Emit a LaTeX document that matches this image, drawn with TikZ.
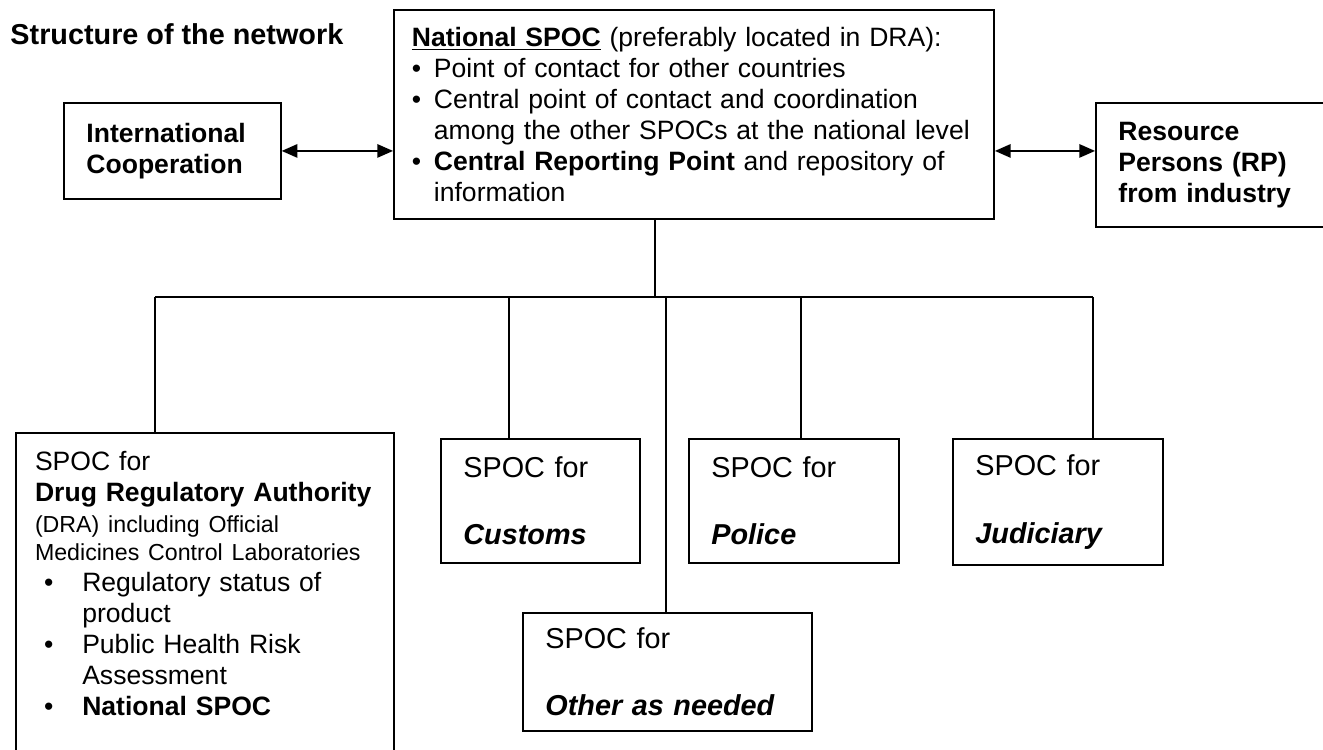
\documentclass[tikz,border=0pt]{standalone}
\usepackage{fontspec}
\setmainfont{Liberation Sans}
\usetikzlibrary{arrows.meta, positioning}
\hyphenpenalty=10000

\begin{document}
\begin{tikzpicture}[x=0.4444pt, y=-0.4444pt, >={Triangle[length=7pt, width=6pt]}]
				\tikzstyle{box} = [draw=black, line width=0.8pt, anchor=north west, align=left, inner xsep=10pt, inner ysep=4pt, font=\fontsize{11.8}{13.8}\selectfont]
				\tikzstyle{spoc} = [box, minimum height=55.1pt, font=\fontsize{12.8}{15}\selectfont]
				\tikzstyle{link} = [line width=0.7pt]
				
				\useasboundingbox (0,0) rectangle (1323,749);
				\clip (0,0) rectangle (1323,749);
				
				\node[anchor=base west, inner sep=0pt, font=\bfseries\fontsize{12.8}{15}\selectfont] at (10, 45) (title) {Structure of the network};
				
				\node[box, inner xsep=8pt, text width=250.7pt, minimum height=92.9pt] at (393, 9) (nat) {%
					\textbf{\underline{National SPOC}} (preferably located in DRA):\\
					\makebox[9.8pt][l]{\textbullet}Point of contact for other countries\\
					\makebox[9.8pt][l]{\textbullet}Central point of contact and coordination\\
					\hspace*{9.8pt}among the other SPOCs at the national level\\
					\makebox[9.8pt][l]{\textbullet}\textbf{Central Reporting Point} and repository of\\
					\hspace*{9.8pt}information};
				\node[box, text width=76.4pt, minimum height=42.7pt, font=\bfseries\fontsize{11.8}{13.8}\selectfont] at (63, 102) (ic) {International\\Cooperation};
				\node[box, text width=88.9pt, minimum height=55.1pt, font=\bfseries\fontsize{11.8}{13.8}\selectfont] at (1095, 102) (rp) {Resource\\Persons (RP)\\from industry};
				
				\node[box, inner xsep=8.5pt, inner ysep=8pt, text width=151pt] at (15, 432) (dra) {%
					SPOC for\\
					\textbf{Drug Regulatory Authority}\\
					{\fontsize{10.3}{12.1}\selectfont (DRA) including Official}\\[-1.3pt]
					{\fontsize{10.3}{12.1}\selectfont Medicines Control Laboratories}\\
					\makebox[21pt][l]{\hspace{4pt}\textbullet}Regulatory status of\\
					\hspace*{21pt}product\\
					\makebox[21pt][l]{\hspace{4pt}\textbullet}Public Health Risk\\
					\hspace*{21pt}Assessment\\
					\makebox[21pt][l]{\hspace{4pt}\textbullet}\textbf{National SPOC}\\[20pt]
					\mbox{}};
				\node[spoc, text width=68.4pt] at (440, 438) (cus) {SPOC for\\[15pt]\textbf{\itshape Customs}};
				\node[spoc, text width=73.3pt] at (688, 438) (pol) {SPOC for\\[15pt]\textbf{\itshape Police}};
				\node[spoc, text width=73.3pt, minimum height=56pt] at (952, 438) (jud) {SPOC for\\[15pt]\textbf{\itshape Judiciary}};
				\node[spoc, text width=108.4pt, minimum height=52.4pt] at (522, 612) (oth) {SPOC for\\[15pt]\textbf{\itshape Other as needed}};
				
				\coordinate (hub)  at (655, 297);
				\coordinate (bdra) at (155, 297);
				\coordinate (bcus) at (509, 297);
				\coordinate (both) at (666, 297);
				\coordinate (bpol) at (801, 297);
				\coordinate (bjud) at (1093, 297);
				
				\path[<->, link]
				(ic.east)		edge	(ic.east -| nat.west)
				(ic.east -| nat.east)	edge	(ic.east -| rp.west);
				
				\path[link]
				(hub |- nat.south)	edge	(hub)
				(bdra)	edge	(bjud)
				(bdra)	edge	(bdra |- dra.north)
				(bcus)	edge	(bcus |- cus.north)
				(both)	edge	(both |- oth.north)
				(bpol)	edge	(bpol |- pol.north)
				(bjud)	edge	(bjud |- jud.north);
			\end{tikzpicture}
\end{document}
